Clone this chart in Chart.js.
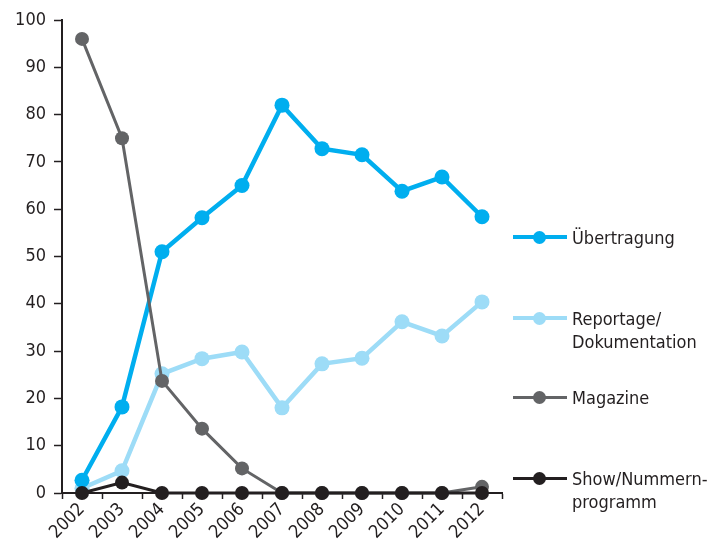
<!DOCTYPE html>
<html><head><meta charset="utf-8">
<script src="https://cdn.jsdelivr.net/npm/chart.js@4"></script>
<style>
html,body{margin:0;padding:0;background:#fff;}
#wrap{position:relative;width:721px;height:554px;}
canvas{position:absolute;left:0;top:0;}
.lg{position:absolute;left:513px;font-family:"Liberation Sans Narrow","DejaVu Sans Condensed",sans-serif;font-size:18px;color:#231f20;line-height:23px;}
.lg .ln{position:absolute;left:0;width:54px;}
.lg .dt{position:absolute;left:20px;width:13px;height:13px;border-radius:50%;}
.lg .tx{position:absolute;left:59px;white-space:nowrap;}
</style></head>
<body><div id="wrap"><canvas id="c" width="721" height="554"></canvas>
<div id="legend"></div></div>
<script>
const years = ["2002","2003","2004","2005","2006","2007","2008","2009","2010","2011","2012"];
const uebertragung = [2.7, 18.2, 51, 58.2, 65, 82, 72.8, 71.5, 63.8, 66.8, 58.4];
const reportage = [1, 4.7, 25.2, 28.4, 29.8, 18, 27.3, 28.5, 36.2, 33.2, 40.4];
const magazine = [96, 75, 23.7, 13.6, 5.2, 0, 0, 0, 0, 0, 1.3];
const show = [0, 2.2, 0, 0, 0, 0, 0, 0, 0, 0, 0];
const yTicks = [0,10,20,30,40,50,60,70,80,90,100];
const seriesNames = ["Übertragung", "Reportage/\nDokumentation", "Magazine", "Show/Nummern-\nprogramm"];

const FONT = '"Liberation Sans Narrow","DejaVu Sans Condensed",sans-serif';
const colors = ["#00aeef", "#9ddcf7", "#636466", "#231f20"];
const widths = [4.5, 4.5, 3, 3];
const radii = [7.5, 7.5, 7, 7];
const orders = [3, 4, 2, 1];
const data = [uebertragung, reportage, magazine, show];

new Chart(document.getElementById('c'), {
  type: 'line',
  data: {
    labels: years,
    datasets: data.map((d, i) => ({
      label: seriesNames[i],
      data: d,
      borderColor: colors[i],
      backgroundColor: colors[i],
      pointBackgroundColor: colors[i],
      pointBorderWidth: 0,
      borderWidth: widths[i],
      pointRadius: radii[i],
      pointHoverRadius: radii[i],
      tension: 0,
      order: orders[i],
      clip: false
    }))
  },
  options: {
    responsive: false,
    animation: false,
    events: [],
    layout: { padding: { top: 20, right: 219, left: 0, bottom: 0 } },
    plugins: { legend: { display: false }, tooltip: { enabled: false } },
    scales: {
      x: {
        offset: true,
        grid: { offset: true, drawOnChartArea: false, tickLength: 6, tickColor: '#231f20', tickWidth: 1.5 },
        border: { color: '#231f20', width: 2 },
        ticks: { color: '#231f20', font: { family: FONT, size: 18 }, minRotation: 45, maxRotation: 45, padding: 0 },
        afterFit: s => { s.height = 61; }
      },
      y: {
        min: 0, max: 100,
        afterBuildTicks: s => { s.ticks = yTicks.map(v => ({ value: v })); },
        grid: { drawOnChartArea: false, tickLength: 8, tickColor: '#231f20', tickWidth: 1.5 },
        border: { color: '#231f20', width: 2 },
        ticks: { color: '#231f20', font: { family: FONT, size: 18 }, padding: 8 },
        afterFit: s => { s.width = 62; }
      }
    }
  }
});

// HTML legend
const legendY = [237, 318, 397, 478];
const lg = document.getElementById('legend');
seriesNames.forEach((name, i) => {
  const lines = name.split('\n');
  const div = document.createElement('div');
  div.className = 'lg';
  div.style.top = legendY[i] + 'px';
  div.innerHTML =
    `<div class="ln" style="top:${-widths[i]/2}px;height:${widths[i]}px;background:${colors[i]}"></div>` +
    `<div class="dt" style="top:-6.5px;background:${colors[i]}"></div>` +
    `<div class="tx" style="top:-11.5px">${lines.join('<br>')}</div>`;
  lg.appendChild(div);
});
</script>
</body></html>
